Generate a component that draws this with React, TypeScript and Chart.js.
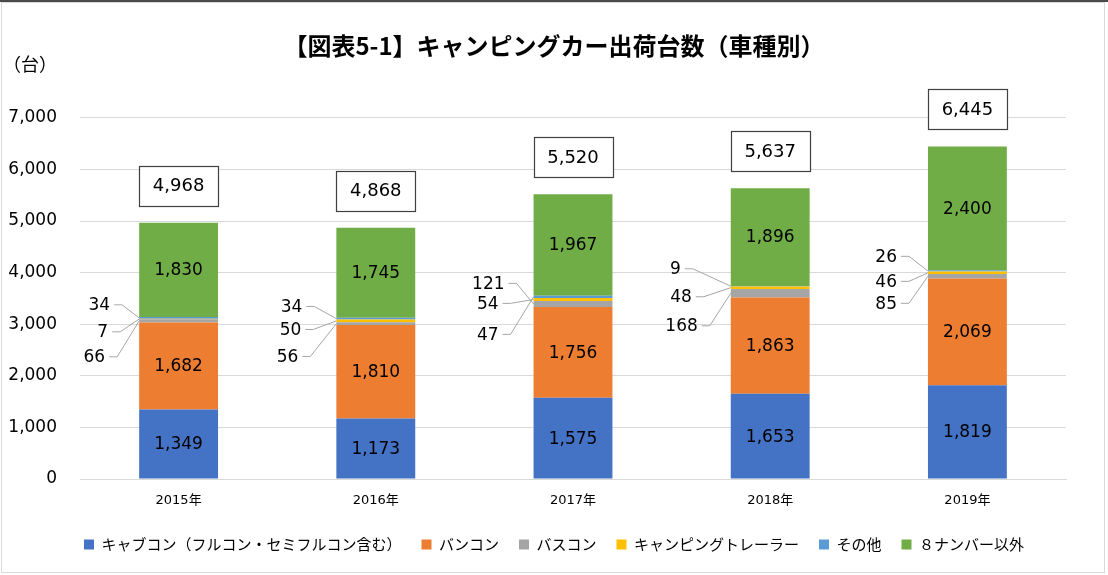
import React, { useEffect, useRef } from 'react';
import { Chart, registerables } from 'chart.js';

Chart.register(...registerables);

// ---- data ----
const years = ['2015年', '2016年', '2017年', '2018年', '2019年'];
const cabcon = [1349, 1173, 1575, 1653, 1819];
const vancon = [1682, 1810, 1756, 1863, 2069];
const buscon = [66, 56, 121, 168, 85];
const trailer = [7, 50, 54, 48, 46];
const others = [34, 34, 47, 9, 26];
const non8 = [1830, 1745, 1967, 1896, 2400];
const totals = [4968, 4868, 5520, 5637, 6445];
const seriesNames = [
  'キャブコン（フルコン・セミフルコン含む）',
  'バンコン',
  'バスコン',
  'キャンピングトレーラー',
  'その他',
  '８ナンバー以外',
];
const titleText = '【図表5-1】キャンピングカー出荷台数（車種別）';
const unitText = '（台）';
const yMax = 7000;
const yStep = 1000;

// ---- styles / layout ----
const colors = ['#4472C4', '#ED7D31', '#A5A5A5', '#FFC000', '#5B9BD5', '#70AD47'];
const NUM_FONT = '"DejaVu Sans", Verdana, sans-serif';
const JP_FONT = '"Noto Sans CJK JP", "Noto Sans", sans-serif';
// label placement for the thin segments: [dx from bar left to label right edge, dy from middle of thin segments]
// order per year: buscon, trailer, others
const smallLabelLayout = [
  [[-34, 37], [-31, 12], [-29, -15]],
  [[-38, 35], [-35, 8], [-34, -15]],
  [[-29, -18], [-35, 2], [-35, 33]],
  [[-33, 34], [-39, 5], [-50, -23]],
  [[-31, 29], [-31, 7], [-31, -18]],
];

const fmt = (v: number) => v.toLocaleString('en-US');

const labelPlugin = {
  id: 'customLabels',
  afterDatasetsDraw(chart: any) {
    const ctx = chart.ctx;
    ctx.save();
    // unit label
    ctx.font = `18px ${JP_FONT}`;
    ctx.fillStyle = '#000';
    ctx.textAlign = 'left';
    ctx.textBaseline = 'middle';
    ctx.fillText(unitText, 3, 64);

    // big segment labels
    ctx.font = `17px ${NUM_FONT}`;
    ctx.textAlign = 'center';
    ctx.textBaseline = 'middle';
    [0, 1, 5].forEach((di) => {
      const meta = chart.getDatasetMeta(di);
      const vals = chart.data.datasets[di].data as number[];
      meta.data.forEach((el: any, j: number) => {
        ctx.fillText(fmt(vals[j]), el.x, (el.y + el.base) / 2 + 1);
      });
    });

    // totals in boxes
    const topMeta = chart.getDatasetMeta(5);
    topMeta.data.forEach((el: any, j: number) => {
      const cx = el.x;
      const cy = el.y - 37;
      const w = 79;
      const h = 40;
      const x0 = Math.round(cx - w / 2) + 0.5;
      const y0 = Math.round(cy - h / 2) + 0.5;
      ctx.fillStyle = '#fff';
      ctx.fillRect(x0, y0, w, h);
      ctx.strokeStyle = '#404040';
      ctx.lineWidth = 1.2;
      ctx.strokeRect(x0, y0, w, h);
      ctx.fillStyle = '#000';
      ctx.font = `18px ${NUM_FONT}`;
      ctx.fillText(fmt(totals[j]), cx, cy + 1);
    });

    // thin segment labels with leader lines
    ctx.font = `17px ${NUM_FONT}`;
    ctx.textAlign = 'right';
    const small = [2, 3, 4];
    years.forEach((_, j) => {
      const lowEl: any = chart.getDatasetMeta(2).data[j];
      const highEl: any = chart.getDatasetMeta(4).data[j];
      const mid = (lowEl.base + highEl.y) / 2;
      const barLeft = lowEl.x - lowEl.width / 2;
      small.forEach((di, k) => {
        const el: any = chart.getDatasetMeta(di).data[j];
        const segY = (el.y + el.base) / 2;
        const [dx, dy] = smallLabelLayout[j][k];
        const rx = barLeft + dx;
        const ly = mid + dy;
        ctx.strokeStyle = '#A6A6A6';
        ctx.lineWidth = 1;
        ctx.beginPath();
        ctx.moveTo(rx + 4, ly);
        ctx.lineTo(rx + 12, ly);
        ctx.lineTo(barLeft, segY);
        ctx.stroke();
        ctx.fillStyle = '#000';
        const vals = chart.data.datasets[di].data as number[];
        ctx.fillText(fmt(vals[j]), rx, ly + 1);
      });
    });
    ctx.restore();
  },
};

export default function App() {
  const canvasRef = useRef<HTMLCanvasElement | null>(null);

  useEffect(() => {
    const canvas = canvasRef.current;
    if (!canvas) return;
    const dataArrays = [cabcon, vancon, buscon, trailer, others, non8];
    const chart = new Chart(canvas, {
      type: 'bar',
      data: {
        labels: years,
        datasets: dataArrays.map((d, i) => ({
          label: seriesNames[i],
          data: d,
          backgroundColor: colors[i],
          borderWidth: 0,
          barPercentage: 0.4,
          categoryPercentage: 1.0,
          yAxisID: 'y',
        })),
      },
      options: {
        responsive: false,
        animation: false,
        devicePixelRatio: 1,
        layout: { padding: { left: 0, right: 0, top: 0, bottom: 13 } },
        plugins: {
          title: {
            display: true,
            text: titleText,
            color: '#000',
            font: { family: JP_FONT, size: 24, weight: 'bold', lineHeight: 1.2 },
            padding: { top: 31, bottom: 58 },
          },
          legend: {
            display: true,
            position: 'bottom',
            labels: {
              color: '#000',
              font: { family: JP_FONT, size: 15 },
              boxWidth: 10,
              boxHeight: 10,
              padding: 20,
            },
          },
          tooltip: { enabled: false },
        },
        scales: {
          x: {
            stacked: true,
            grid: { display: false, drawTicks: false },
            border: { display: true, color: '#D9D9D9', width: 1 },
            ticks: {
              color: '#000',
              font: { family: `${NUM_FONT.split(',')[0]}, ${JP_FONT}`, size: 13 },
              padding: 14,
              maxRotation: 0,
            },
            afterFit: (s: any) => {
              s.height = 38;
            },
          },
          y: {
            stacked: true,
            min: 0,
            max: yMax,
            grid: { color: '#D9D9D9', lineWidth: 1, drawTicks: false },
            border: { display: false },
            ticks: {
              stepSize: yStep,
              color: '#000',
              font: { family: NUM_FONT, size: 17 },
              padding: 23,
              callback: (v: any) => fmt(Number(v)),
            },
            afterFit: (s: any) => {
              s.width = 80;
            },
          },
          y2: {
            position: 'right',
            display: true,
            grid: { display: false, drawTicks: false },
            border: { display: false },
            ticks: { display: false },
            afterFit: (s: any) => {
              s.width = 42;
            },
          },
        },
      },
      plugins: [labelPlugin],
    } as any);
    return () => chart.destroy();
  }, []);

  return (
    <div
      style={{
        position: 'absolute',
        left: 0,
        top: 0,
        width: 1108,
        height: 575,
        background: '#fff',
        overflow: 'hidden',
      }}
    >
      <div style={{ position: 'absolute', left: 0, top: 0, width: 1108, height: 2, background: '#4a4a4a' }} />
      <div
        style={{
          position: 'absolute',
          left: 1,
          top: 2,
          width: 1102,
          height: 569,
          border: '1px solid #D9D9D9',
          pointerEvents: 'none',
        }}
      />
      <canvas ref={canvasRef} width={1108} height={575} style={{ position: 'absolute', left: 0, top: 0, width: 1108, height: 575 }} />
    </div>
  );
}
